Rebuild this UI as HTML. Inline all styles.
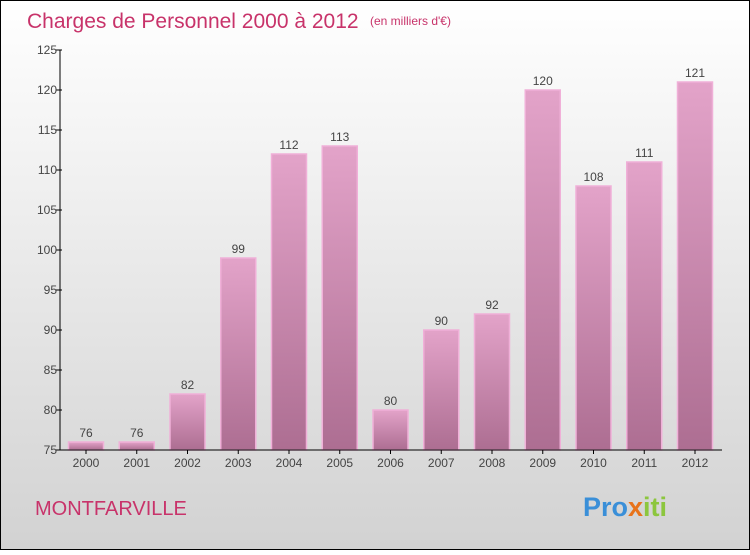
<!DOCTYPE html>
<html><head><meta charset="utf-8"><style>
body{margin:0;width:750px;height:550px;overflow:hidden;font-family:"Liberation Sans",sans-serif}
</style></head><body>
<svg width="750" height="550" viewBox="0 0 750 550">
<defs>
<linearGradient id="bg" x1="0" y1="0" x2="0" y2="1"><stop offset="0" stop-color="#ffffff"/><stop offset="1" stop-color="#d2d2d2"/></linearGradient>
<linearGradient id="bar" x1="0" y1="0" x2="0" y2="1"><stop offset="0" stop-color="#e3a3c9"/><stop offset="1" stop-color="#ad6e92"/></linearGradient>
</defs>
<rect x="0.5" y="0.5" width="749" height="549" fill="url(#bg)" stroke="#000"/>
<text x="27" y="28" font-size="21" fill="#c8336a">Charges de Personnel 2000 à 2012</text>
<text x="370" y="25" font-size="12" fill="#c8336a">(en milliers d'€)</text>
<text x="35" y="515" font-size="20" fill="#c8336a">MONTFARVILLE</text>
<g font-size="27" font-weight="bold">
<text x="583" y="516"><tspan fill="#3a8fd8">Pro</tspan><tspan fill="#e8731a">x</tspan><tspan fill="#8cc63e">iti</tspan></text>
</g>
<g id="plot"></g>
</svg>
<script>
const categories=["2000","2001","2002","2003","2004","2005","2006","2007","2008","2009","2010","2011","2012"];
const values=[76,76,82,99,112,113,80,90,92,120,108,111,121];
const yTicks=[75,80,85,90,95,100,105,110,115,120,125];
const NS="http://www.w3.org/2000/svg";
const g=document.getElementById('plot');
const x0=60,step=50.75,firstC=86,bw=35,yMin=75,yMax=125,yTop=50,yBot=450;
const y=v=>yBot-(v-yMin)/(yMax-yMin)*(yBot-yTop);
const xc=i=>firstC+i*step;
function mk(t,a){const e=document.createElementNS(NS,t);for(const k in a)e.setAttribute(k,a[k]);g.appendChild(e);return e;}
values.forEach((v,i)=>{
 const r=mk('rect',{x:xc(i)-bw/2,y:y(v),width:bw,height:yBot-y(v),fill:'url(#bar)',stroke:'#f0b0d8','stroke-width':1.5});
 
 
 const t=mk('text',{x:xc(i),y:y(v)-5,'text-anchor':'middle','font-size':12,fill:'#444'});
 t.textContent=v;
 
 
 const c=mk('text',{x:xc(i),y:467,'text-anchor':'middle','font-size':12,fill:'#444'});
 c.textContent=categories[i];
 
 
 const tk=mk('line',{x1:xc(i),x2:xc(i),y1:yBot,y2:yBot+4,stroke:'#000'});
 
 
});
yTicks.forEach(v=>{
 const l=mk('line',{x1:x0-4,x2:x0+2,y1:y(v),y2:y(v),stroke:'#000'});
 
 
 const t=mk('text',{x:x0-3,y:y(v)+4,'text-anchor':'end','font-size':12,fill:'#444'});
 t.textContent=v;
 
 
});
const ya=mk('line',{x1:x0,x2:x0,y1:yTop,y2:yBot,stroke:'#000'});


const xa=mk('line',{x1:x0,x2:722,y1:yBot,y2:yBot,stroke:'#000'});


</script>
</body></html>
